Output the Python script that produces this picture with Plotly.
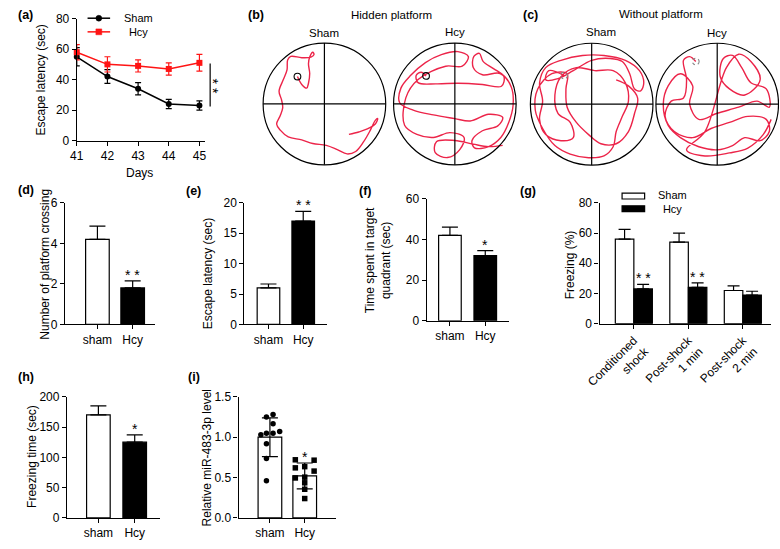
import plotly.graph_objects as go

W, H = 780, 549
FONT = "Liberation Sans, Arial, sans-serif"
RED = "#FF1414"
PATH_RED = "#EC2449"

# (a) escape latency over training days
days = [41, 42, 43, 44, 45]
sham_latency = [55, 42, 34, 24, 23]
sham_latency_err = [6, 4.5, 4, 3, 3]
hcy_latency = [58, 50, 49, 47, 51]
hcy_latency_err = [5, 5, 4, 4, 5.5]

# (d), (e), (f), (h): sham vs Hcy bars
groups = ["sham", "Hcy"]
crossings = [4.2, 1.8]
crossings_err = [0.65, 0.35]
probe_latency = [6.0, 17.0]
probe_latency_err = [0.65, 1.6]
quadrant_time = [42, 32]
quadrant_time_err = [4, 2.5]
freezing_time = [170, 125]
freezing_time_err = [15, 12]

# (g) fear conditioning freezing
phases = ["Conditioned<br>shock", "Post-shock<br>1 min", "Post-shock<br>2 min"]
freezing_sham = [56, 54, 22]
freezing_sham_err = [6.5, 6, 3]
freezing_hcy = [23, 24, 19]
freezing_hcy_err = [3, 3, 2.5]

# (i) relative miR-483-3p level, individual animals
mir_sham = [1.25, 1.28, 1.165, 1.03, 1.05, 1.05, 1.07, 0.92, 0.735, 0.46]
mir_sham_jitter = [-0.10, 0.09, 0.09, -0.26, -0.10, 0.09, 0.28, -0.10, -0.10, -0.10]
mir_hcy = [0.72, 0.715, 0.62, 0.635, 0.58, 0.495, 0.505, 0.435, 0.355, 0.24]
mir_hcy_jitter = [-0.27, 0.27, -0.27, 0.0, 0.27, -0.27, 0.0, 0.0, 0.0, 0.0]
mir_mean = [1.0, 0.52]
mir_sd = [0.24, 0.16]

# swim paths, in pool radii (pool centre = 0,0)
hidden_sham_x = [-0.44, -0.37, -0.29, -0.26, -0.24, -0.26, -0.24, -0.19, -0.17, -0.22, -0.37, -0.55,
                 -0.60, -0.61, -0.67, -0.74, -0.70, -0.68, -0.72, -0.78, -0.72, -0.59, -0.37, -0.19,
                 0.03, 0.21, 0.37, 0.51, 0.64, 0.75, 0.83, 0.87, 0.83, 0.70, 0.56, 0.40]
hidden_sham_y = [0.45, 0.32, 0.26, 0.34, 0.50, 0.66, 0.77, 0.85, 0.81, 0.77, 0.76, 0.78,
                 0.72, 0.56, 0.40, 0.21, 0.07, -0.06, -0.19, -0.33, -0.43, -0.54, -0.59, -0.65,
                 -0.68, -0.75, -0.82, -0.78, -0.62, -0.43, -0.27, -0.24, -0.33, -0.41, -0.46, -0.50]
hidden_hcy_x = [-0.47, -0.55, -0.63, -0.60, -0.30, 0.05, 0.45, 0.76, 0.80, 0.63, 0.46, 0.40, 0.31,
                0.30, 0.45, 0.74, 0.92, 0.95, 0.88, 0.75, 0.55, 0.32, 0.28, 0.45, 0.70, 0.78, 0.55,
                0.25, 0.00, -0.35, -0.68, -0.90, -0.88, -0.72, -0.48, -0.22, 0.05, 0.22, 0.12,
                -0.15, -0.60, -0.80, -0.82, -0.62, -0.35, -0.08, 0.15, 0.08, -0.12, -0.32, -0.30,
                0.00, 0.30, 0.55, 0.78]
hidden_hcy_y = [0.46, 0.52, 0.47, 0.35, 0.33, 0.34, 0.32, 0.29, 0.45, 0.58, 0.70, 0.83, 0.78,
                0.60, 0.48, 0.50, 0.28, -0.02, -0.30, -0.55, -0.70, -0.72, -0.60, -0.44, -0.36, -0.22,
                -0.17, -0.28, -0.24, -0.18, -0.10, 0.02, 0.26, 0.47, 0.68, 0.81, 0.86, 0.78, 0.62,
                0.62, 0.40, 0.10, -0.35, -0.50, -0.55, -0.47, -0.55, -0.75, -0.88, -0.80, -0.62,
                -0.60, -0.66, -0.70, -0.68]
free_sham_x = [-0.45, -0.70, -0.75, -0.55, -0.30, 0.00, 0.30, 0.50, 0.62, 0.70, 0.80, 0.85, 0.78,
               0.55, 0.20, -0.15, -0.50, -0.75, -0.85, -0.80, -0.85, -0.75, -0.50, -0.30, -0.35,
               -0.55, -0.60, -0.50, -0.25, 0.05, 0.35, 0.55, 0.60, 0.50, 0.40, 0.35, 0.20, -0.05,
               -0.35, -0.60, -0.80, -0.92, -0.88, -0.65, -0.40, -0.42, -0.40, -0.25, -0.05, 0.15,
               0.40, 0.60, 0.70, 0.75, 0.60, 0.40]
free_sham_y = [0.47, 0.55, 0.40, 0.42, 0.55, 0.72, 0.75, 0.70, 0.50, 0.25, 0.22, 0.35, 0.55,
               0.72, 0.80, 0.80, 0.72, 0.60, 0.35, 0.05, -0.25, -0.50, -0.60, -0.55, -0.30,
               -0.15, 0.15, 0.45, 0.60, 0.55, 0.55, 0.35, 0.05, -0.20, -0.45, -0.70, -0.85, -0.88,
               -0.82, -0.68, -0.40, -0.10, 0.25, 0.50, 0.50, 0.25, -0.05, -0.30, -0.50, -0.65,
               -0.65, -0.45, -0.15, 0.10, 0.30, 0.40]
free_hcy_x = [-0.35, -0.45, -0.55, -0.50, -0.55, -0.75, -0.85, -0.70, -0.40, -0.10, 0.20, 0.50,
              0.80, 0.85, 0.70, 0.45, 0.25, 0.00, -0.30, -0.60, -0.80, -0.88, -0.80, -0.60, -0.40,
              -0.45, -0.30, 0.00, 0.35, 0.65, 0.85, 0.80, 0.55, 0.40, 0.25, 0.10, 0.05, 0.20, 0.45,
              0.70, 0.55, 0.35, 0.15, -0.20, -0.50, -0.20, 0.20, 0.50, 0.75, 0.88]
free_hcy_y = [0.70, 0.78, 0.72, 0.40, 0.10, 0.05, -0.20, -0.45, -0.55, -0.40, -0.30, -0.20,
              -0.25, -0.45, -0.60, -0.55, -0.68, -0.75, -0.70, -0.55, -0.35, 0.00, 0.30, 0.50, 0.30,
              0.00, -0.25, -0.15, -0.05, 0.05, -0.05, 0.25, 0.35, 0.60, 0.80, 0.75, 0.45, 0.25, 0.15,
              0.40, 0.70, 0.82, 0.60, -0.45, -0.75, -0.85, -0.80, -0.72, -0.50, -0.25]

fig = go.Figure()
shapes = []
ann = []


def dom_x(x0, x1):
    return [x0 / W, x1 / W]


def dom_y(top, bottom):
    return [1 - bottom / H, 1 - top / H]


def bar_axes(n, xpx, ypx, xrange, yrange, ytickvals, ticktext, tickvals=(0, 1), yfmt=None, xangle=0):
    common = dict(showline=True, linecolor="black", linewidth=1.2, ticks="outside", ticklen=4,
                  tickwidth=1.2, tickcolor="black", showgrid=False, zeroline=False,
                  tickfont=dict(size=12, color="black", family=FONT))
    sx = "xaxis" if n == 1 else f"xaxis{n}"
    sy = "yaxis" if n == 1 else f"yaxis{n}"
    fig.layout[sx] = dict(common, domain=dom_x(*xpx), range=xrange, anchor="y" if n == 1 else f"y{n}",
                          tickvals=list(tickvals), ticktext=ticktext, tickangle=xangle)
    fig.layout[sy] = dict(common, domain=dom_y(*ypx), range=yrange, anchor="x" if n == 1 else f"x{n}",
                          tickvals=ytickvals, tickformat=yfmt)


def txt(text, x, y, size=12, angle=0, xanchor="center", bold=False):
    ann.append(dict(text=f"<b>{text}</b>" if bold else text, x=x / W, y=1 - y / H, xref="paper", yref="paper",
                    showarrow=False, textangle=angle, xanchor=xanchor, yanchor="middle",
                    font=dict(size=size, color="black", family=FONT)))


# ---------- (a) ----------
fig.add_trace(go.Scatter(x=days, y=sham_latency, name="Sham", mode="lines+markers",
                         line=dict(color="black", width=1.5), marker=dict(symbol="circle", size=6, color="black"),
                         error_y=dict(type="data", array=sham_latency_err, color="black", thickness=1.2, width=3),
                         cliponaxis=False, showlegend=False))
fig.add_trace(go.Scatter(x=days, y=hcy_latency, name="Hcy", mode="lines+markers",
                         line=dict(color=RED, width=1.5), marker=dict(symbol="square", size=6, color=RED),
                         error_y=dict(type="data", array=hcy_latency_err, color=RED, thickness=1.2, width=3),
                         cliponaxis=False, showlegend=False))
bar_axes(1, (64, 195), (12, 137), [41, 45.19], [0, 80], [0, 20, 40, 60, 80],
         [str(d) for d in days], tickvals=days)

# (a) legend drawn by hand
for col, sym, yy in [("black", "circle", 11.5), (RED, "rect", 25.5)]:
    shapes.append(dict(type="line", xref="paper", yref="paper", x0=75 / W, x1=98 / W, y0=1 - yy / H, y1=1 - yy / H,
                       line=dict(color=col, width=1.5)))
    shapes.append(dict(type=sym, xref="paper", yref="paper", x0=83.5 / W, x1=89.5 / W,
                       y0=1 - (yy + 3) / H, y1=1 - (yy - 3) / H, fillcolor=col, line=dict(color=col, width=0.5)))
txt("Sham<br>Hcy", 110, 18.5, size=11, xanchor="left")

# ---------- (b), (c) swim paths ----------
R = 62.5
pools = [(2, 316.5, 99.5, hidden_sham_x, hidden_sham_y, "solid"),
         (3, 449.5, 99.5, hidden_hcy_x, hidden_hcy_y, "solid"),
         (4, 589, 99.7, free_sham_x, free_sham_y, "dot"),
         (5, 717, 99.7, free_hcy_x, free_hcy_y, "dot")]
for n, cx, cy, px, py, plat in pools:
    x0, x1 = cx - 66, min(cx + 66, W)
    fig.layout[f"xaxis{n}"] = dict(domain=dom_x(x0, x1), range=[(x0 - cx) / R, (x1 - cx) / R],
                                   visible=False, anchor=f"y{n}")
    fig.layout[f"yaxis{n}"] = dict(domain=dom_y(cy - 66, cy + 66), range=[-66 / R, 66 / R],
                                   visible=False, anchor=f"x{n}")
    fig.add_trace(go.Scatter(x=px, y=py, mode="lines", line=dict(color=PATH_RED, width=1.4, shape="spline"),
                             showlegend=False, xaxis=f"x{n}", yaxis=f"y{n}", hoverinfo="skip"))
    ref = dict(xref=f"x{n}", yref=f"y{n}")
    shapes.append(dict(type="circle", x0=-1, x1=1, y0=-1, y1=1, line=dict(color="black", width=1.2), **ref))
    shapes.append(dict(type="line", x0=-1, x1=1, y0=0, y1=0, line=dict(color="black", width=1.2), **ref))
    shapes.append(dict(type="line", x0=0, x1=0, y0=-1, y1=1, line=dict(color="black", width=1.2), **ref))
    pc = "black" if plat == "solid" else "#888888"
    shapes.append(dict(type="circle", x0=px[0] - 0.055, x1=px[0] + 0.055, y0=py[0] - 0.055, y1=py[0] + 0.055,
                       line=dict(color=pc, width=1.1, dash=plat), **ref))


# ---------- bar panels ----------
def two_bars(n, vals, errs, width, fills=("white", "black"), symmetric=False):
    err = dict(type="data", array=errs, color="black", thickness=1.2, width=8)
    if not symmetric:
        err.update(symmetric=False, arrayminus=[0] * len(errs))
    fig.add_trace(go.Bar(x=[0, 1], y=vals, width=width, marker=dict(color=list(fills),
                         line=dict(color="black", width=1.2)), error_y=err, showlegend=False,
                         xaxis=f"x{n}", yaxis=f"y{n}"))


two_bars(6, crossings, crossings_err, 0.67)
bar_axes(6, (52, 144), (201, 325.7), [-0.92, 1.64], [0, 6], [0, 2, 4, 6], groups)
two_bars(7, probe_latency, probe_latency_err, 0.65)
bar_axes(7, (235, 319), (201, 325.7), [-0.69, 1.68], [0, 20], [0, 5, 10, 15, 20], groups)
two_bars(8, quadrant_time, quadrant_time_err, 0.64)
bar_axes(8, (420.7, 505), (196.7, 322), [-0.66, 1.68], [0, 60], [0, 20, 40, 60], groups)
two_bars(10, freezing_time, freezing_time_err, 0.65)
bar_axes(10, (54, 149), (400, 524.3), [-0.865, 1.70], [0, 200], [0, 50, 100, 150, 200], groups)

# (g) grouped bars
gx = list(range(len(phases)))
for vals, errs, fill, off in [(freezing_sham, freezing_sham_err, "white", -0.34),
                              (freezing_hcy, freezing_hcy_err, "black", 0.0)]:
    fig.add_trace(go.Bar(x=gx, y=vals, width=0.34, offset=off,
                         marker=dict(color=fill, line=dict(color="black", width=1.2)),
                         error_y=dict(type="data", array=errs, symmetric=False, arrayminus=[0] * 3,
                                      color="black", thickness=1.2, width=6),
                         showlegend=False, xaxis="x9", yaxis="y9"))
bar_axes(9, (597, 772), (201, 325), [-0.63, 2.52], [0, 80], [0, 20, 40, 60, 80], phases,
         tickvals=gx, xangle=-45)

# (i) bars with individual points
two_bars(11, mir_mean, mir_sd, 0.68, fills=("white", "white"), symmetric=True)
fig.add_trace(go.Scatter(x=[0 + j for j in mir_sham_jitter], y=mir_sham, mode="markers",
                         marker=dict(symbol="circle", size=5.5, color="black"), showlegend=False,
                         cliponaxis=False, xaxis="x11", yaxis="y11"))
fig.add_trace(go.Scatter(x=[1 + j for j in mir_hcy_jitter], y=mir_hcy, mode="markers",
                         marker=dict(symbol="square", size=5.5, color="black"), showlegend=False,
                         cliponaxis=False, xaxis="x11", yaxis="y11"))
bar_axes(11, (229, 328), (400, 524.3), [-0.9, 1.89], [0, 1.5], [0, 0.5, 1.0, 1.5], groups, yfmt=".1f")

# ---------- text ----------
for lab, x, y in [("(a)", 2, 8), ("(b)", 237, 8), ("(c)", 517, 8), ("(d)", 2, 188), ("(e)", 173, 189),
                  ("(f)", 350, 189), ("(g)", 514, 189), ("(h)", 2, 380), ("(i)", 175, 380)]:
    txt(lab, x, y, size=12.5, xanchor="left", bold=True)

txt("Escape latency (sec)", 28, 75, angle=-90)
txt("Days", 128, 170)
txt("Number of platform crossing", 32, 264, angle=-90)
txt("Escape latency (sec)", 198, 274, angle=-90)
txt("Time spent in target<br>quadrant (sec)", 372, 260, angle=-90)
txt("Freezing (%)", 567, 265, angle=-90)
txt("Freezing time (sec)", 19, 461, angle=-90)
txt("Relative miR-483-3p level", 197, 463, angle=-90)

txt("Hidden platform", 385, 8, size=11.5)
txt("Sham", 316, 27, size=11.5)
txt("Hcy", 450, 26, size=11.5)
txt("Without platform", 660, 7, size=11.5)
txt("Sham", 599, 26, size=11.5)
txt("Hcy", 717, 27, size=11.5)

# (g) legend drawn by hand
shapes.append(dict(type="rect", xref="paper", yref="paper", x0=620 / W, x1=643 / W, y0=1 - 197 / H, y1=1 - 191 / H,
                   line=dict(color="black", width=1.2), fillcolor="white"))
shapes.append(dict(type="rect", xref="paper", yref="paper", x0=620 / W, x1=643 / W, y0=1 - 210 / H, y1=1 - 204 / H,
                   line=dict(color="black", width=1.2), fillcolor="black"))
txt("Sham<br>Hcy", 655, 200.5, size=11, xanchor="left")

# (a) significance bracket
shapes.append(dict(type="line", xref="paper", yref="y", x0=200 / W, x1=200 / W, y0=22.4, y1=50.6,
                   line=dict(color="black", width=1.2)))
ann.append(dict(text="* *", x=203 / W, y=36, xref="paper", yref="y", showarrow=False, textangle=90,
                xanchor="center", yanchor="middle", font=dict(size=14, color="black", family=FONT)))


def stars(text, n, x, y):
    ann.append(dict(text=text, x=x, y=y, xref=f"x{n}", yref=f"y{n}", showarrow=False, yanchor="bottom",
                    yshift=-4, font=dict(size=14, color="black", family=FONT)))


stars("* *", 6, 1, crossings[1] + crossings_err[1])
stars("* *", 7, 1, probe_latency[1] + probe_latency_err[1])
stars("*", 8, 1, quadrant_time[1] + quadrant_time_err[1])
stars("*", 10, 1, freezing_time[1] + freezing_time_err[1])
stars("*", 11, 1, mir_mean[1] + mir_sd[1])
for k in range(2):
    stars("* *", 9, gx[k] + 0.17, freezing_hcy[k] + freezing_hcy_err[k])

fig.update_layout(
    width=W, height=H, margin=dict(l=0, r=0, t=0, b=0),
    plot_bgcolor="white", paper_bgcolor="white",
    font=dict(family=FONT, size=12, color="black"),
    shapes=shapes, annotations=ann, barmode="overlay", showlegend=False,
)

fig.write_html("out.html", config={"displayModeBar": False},
               post_script="document.body.style.margin='0px';")
